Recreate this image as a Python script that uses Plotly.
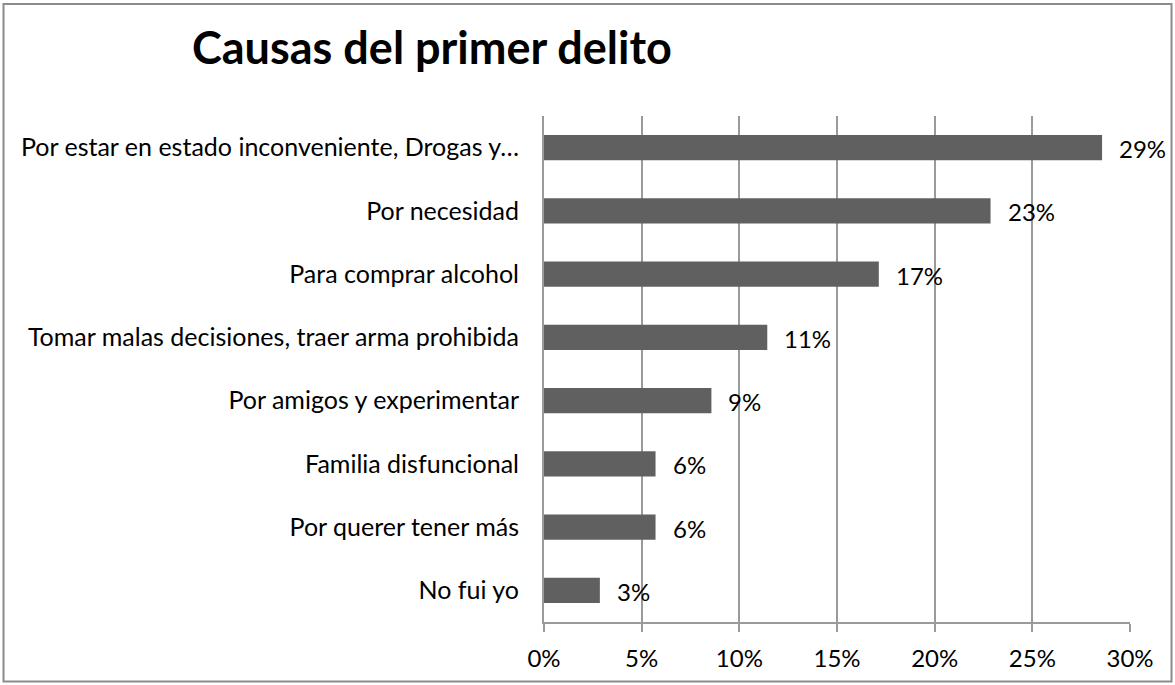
import plotly.graph_objects as go

causas = [
    "Por estar en estado inconveniente, Drogas y…",
    "Por necesidad",
    "Para comprar alcohol",
    "Tomar malas decisiones, traer arma prohibida",
    "Por amigos y experimentar",
    "Familia disfuncional",
    "Por querer tener más",
    "No fui yo",
]
porcentajes = [28.57, 22.86, 17.14, 11.43, 8.57, 5.71, 5.71, 2.86]
etiquetas = ["29%", "23%", "17%", "11%", "9%", "6%", "6%", "3%"]
ticks_x = [0, 5, 10, 15, 20, 25, 30]
ticks_x_text = ["0%", "5%", "10%", "15%", "20%", "25%", "30%"]

W, H = 1175, 685
ML, MR, MT, MB = 544, 45, 116, 63
FONT = "Lato"
BAR_COLOR = "#606060"
GRID_COLOR = "#9a9a9a"

fig = go.Figure()
fig.add_trace(go.Bar(
    x=porcentajes,
    y=causas,
    orientation="h",
    marker=dict(color=BAR_COLOR, line=dict(width=0)),
    hoverinfo="skip",
))

# etiquetas de datos fuera del extremo de cada barra
for v, c, t in zip(porcentajes, causas, etiquetas):
    fig.add_annotation(x=v, y=c, text=t, showarrow=False, xanchor="left",
                       xshift=15, yshift=-1, font=dict(family=FONT, size=24, color="#000"))

# borde gris alrededor de todo el grafico
pw, ph = W - ML - MR, H - MT - MB
def px_x(p):
    return (p - ML) / pw
def px_y(p):
    return (H - MB - p) / ph
fig.add_shape(type="rect", xref="paper", yref="paper",
              x0=px_x(3.5), x1=px_x(W - 3.5), y0=px_y(H - 3.5), y1=px_y(4),
              line=dict(color="#8c8c8c", width=2), layer="below")

fig.update_layout(
    width=W, height=H,
    margin=dict(l=ML, r=MR, t=MT, b=MB, pad=0),
    paper_bgcolor="white",
    plot_bgcolor="white",
    bargap=0.6,
    showlegend=False,
    font=dict(family=FONT, size=24, color="#000"),
    title=dict(
        text="<b>Causas del primer delito</b>",
        font=dict(family=FONT, size=45, color="#000"),
        xref="container", yref="container",
        x=192 / W, xanchor="left",
        y=1 - 48 / H, yanchor="middle",
    ),
    xaxis=dict(
        range=[0, 30],
        tickvals=ticks_x,
        ticktext=ticks_x_text,
        showgrid=True, gridcolor=GRID_COLOR, gridwidth=2,
        zeroline=False,
        showline=True, linecolor=GRID_COLOR, linewidth=2,
        ticks="outside", ticklen=8, tickwidth=2, tickcolor=GRID_COLOR,
        tickfont=dict(family=FONT, size=24),
        ticklabelstandoff=6,
        fixedrange=True,
    ),
    yaxis=dict(
        autorange="reversed",
        showgrid=False,
        showline=True, linecolor=GRID_COLOR, linewidth=2,
        ticks="", ticklabelstandoff=18,
        tickfont=dict(family=FONT, size=25),
        fixedrange=True,
    ),
)

# sin margen del body para que la figura ocupe toda la ventana
fig.write_html("out.html", config={"displayModeBar": False},
               post_script="document.body.style.margin='0px';")
